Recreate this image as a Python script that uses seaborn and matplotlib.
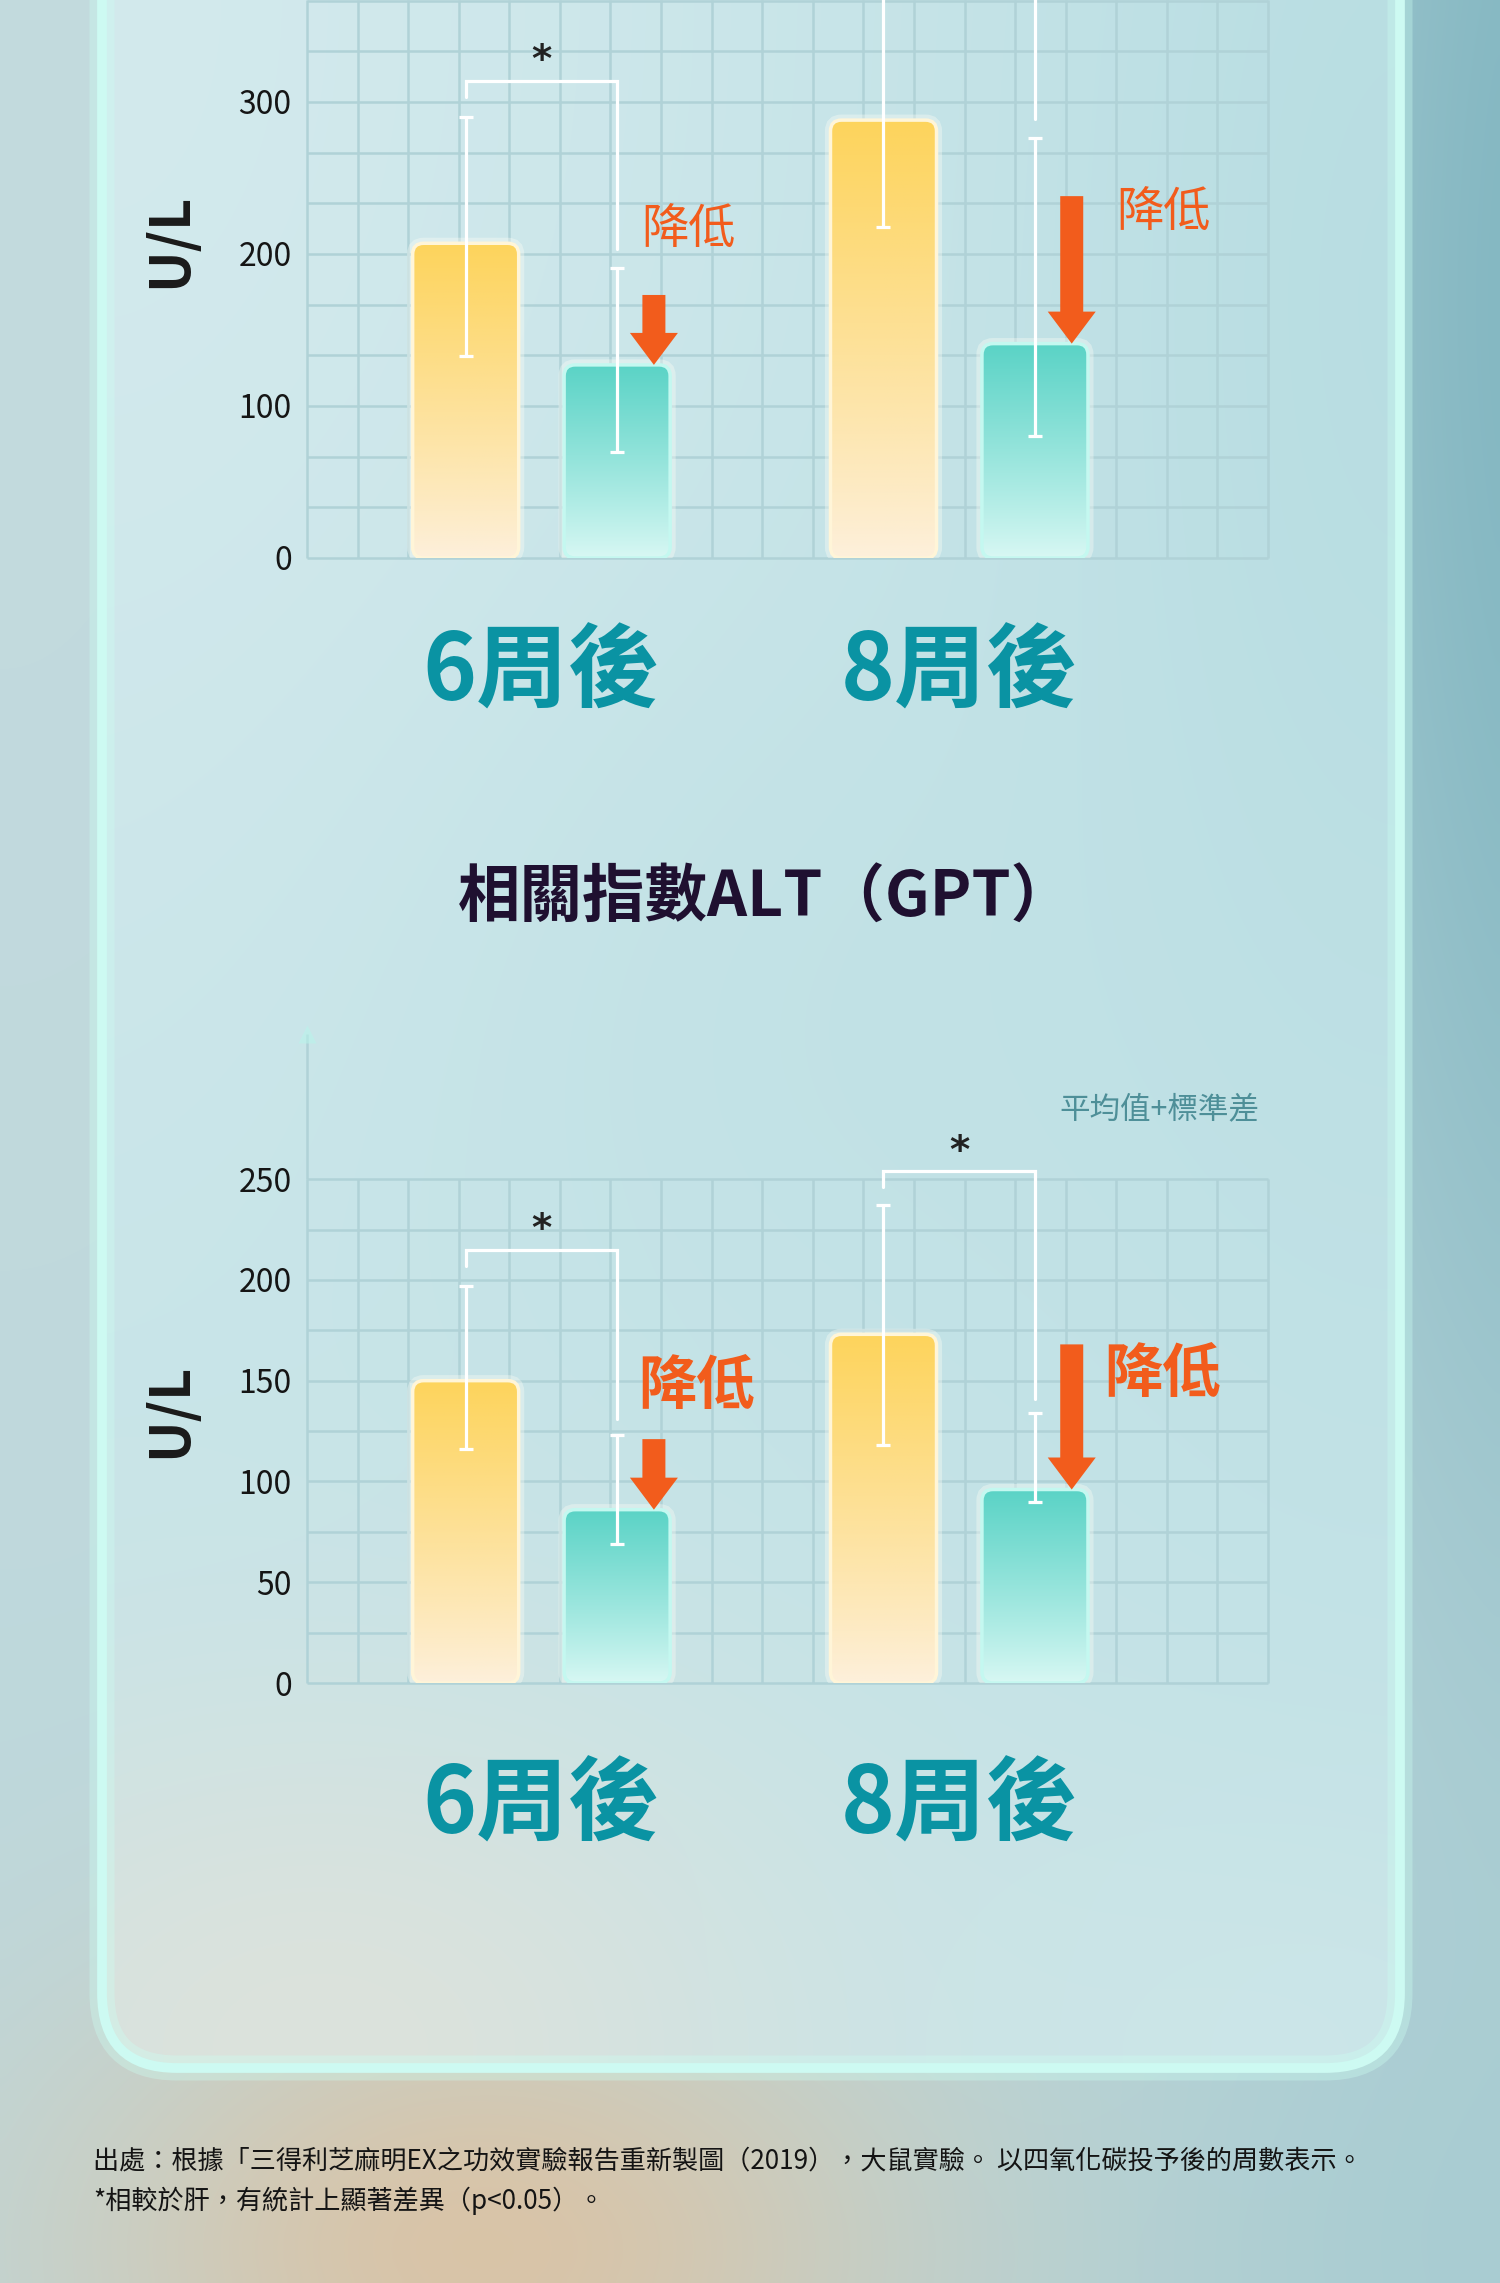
import numpy as np
import pandas as pd
import matplotlib
matplotlib.use("Agg")
import matplotlib.pyplot as plt
from matplotlib.patches import FancyBboxPatch
from matplotlib.colors import to_rgb
import seaborn as sns

# ---------------- data ----------------
weeks = ["6周後", "8周後"]
groups = ["對照組", "芝麻明EX"]

# upper chart (U/L)
ast_control = [207, 288]
ast_treated = [127, 141]
ast_control_low = [133, 218]
ast_control_high = [290, 392]
ast_treated_low = [70, 80]
ast_treated_high = [191, 276]
ast_bracket_top = [314, 400]
ast_bracket_left_end = [303, 392]
ast_bracket_right_end = [203, 289]
ast_arrow_from = [173, 238]
ast_ticks = [0, 100, 200, 300]

# lower chart ALT (GPT) (U/L)
alt_control = [150, 173]
alt_treated = [86, 96]
alt_control_low = [116, 118]
alt_control_high = [197, 237]
alt_treated_low = [69, 90]
alt_treated_high = [123, 134]
alt_bracket_top = [215, 254]
alt_bracket_left_end = [207, 246]
alt_bracket_right_end = [131, 141]
alt_arrow_from = [121, 168]
alt_ticks = [0, 50, 100, 150, 200, 250]

title_text = "相關指數ALT（GPT）"
unit_text = "U/L"
drop_text = "降低"
star_text = "*"
legend_note = "平均值+標準差"
footnote_1 = "出處：根據「三得利芝麻明EX之功效實驗報告重新製圖（2019），大鼠實驗。 以四氧化碳投予後的周數表示。"
footnote_2 = "*相較於肝，有統計上顯著差異（p<0.05）。"

# ---------------- style ----------------
sns.set_theme(style="white")
plt.rcParams["font.family"] = ["Noto Sans CJK TC", "DejaVu Sans"]

W, H = 1500, 2283
TEAL_TXT = "#0a93a3"
ORANGE = "#f25c1c"
GRID = "#b0d2d7"
WHITE_LINE = "#ffffff"
bar_top = {groups[0]: "#fdd45c", groups[1]: "#5ad3c6"}
bar_bot = {groups[0]: "#fdf0dc", groups[1]: "#d9f8f4"}
bar_edge = {groups[0]: "#fff5d8", groups[1]: "#c4f8f0"}

fig = plt.figure(figsize=(W / 100, H / 100), dpi=100)

# ---------------- background ----------------
bg = fig.add_axes([0, 0, 1, 1], zorder=-10)
bg.set_xlim(0, W)
bg.set_ylim(H, 0)
bg.axis("off")
yy, xx = np.mgrid[0:H:8, 0:W:8].astype(float)


def blob(cx, cy, sx, sy):
    return np.exp(-(((xx - cx) / sx) ** 2 + ((yy - cy) / sy) ** 2) / 2)


def mix(img, color, w):
    return img * (1 - w[..., None]) + np.array(to_rgb(color)) * w[..., None]


img = np.ones(xx.shape + (3,)) * np.array(to_rgb("#bcd7db"))
img = mix(img, "#c6dcdf", 0.7 * blob(0, 0, 400, 1200))
img = mix(img, "#80b5c0", 0.95 * blob(1560, 300, 220, 1000))
img = mix(img, "#a4cad0", 0.7 * blob(1550, 2283, 400, 300))
img = mix(img, "#dcc2a2", 0.9 * blob(480, 2250, 300, 200))
bg.imshow(img, extent=[0, W, H, 0], interpolation="bicubic", aspect="auto", zorder=0)

# frosted panel
pimg = np.ones(xx.shape + (3,)) * np.array(to_rgb("#c4e3e7"))
pimg = mix(pimg, "#d6ebee", 0.8 * blob(100, 0, 500, 900))
pimg = mix(pimg, "#b1dadf", 0.6 * blob(1400, 300, 260, 700))
pimg = mix(pimg, "#bcdfe3", 0.4 * blob(800, 1000, 300, 300))
pimg = mix(pimg, "#e0e2da", 0.85 * blob(320, 2050, 380, 260))
pimg = mix(pimg, "#d2e8ea", 0.5 * blob(1300, 2050, 300, 200))
panel_box = dict(boxstyle="round,pad=0,rounding_size=75")
panel_clip = FancyBboxPatch((102, -300), 1298, 2368, **panel_box,
                            facecolor="none", edgecolor="none", zorder=1)
bg.add_patch(panel_clip)
pim = bg.imshow(pimg, extent=[0, W, H, 0], interpolation="bicubic", aspect="auto", zorder=1)
pim.set_clip_path(panel_clip)
bg.add_patch(FancyBboxPatch((102, -300), 1298, 2368, **panel_box,
                            facecolor="none", edgecolor=(0.80, 1.0, 0.95, 0.35), lw=18, zorder=2))
bg.add_patch(FancyBboxPatch((102, -300), 1298, 2368, **panel_box,
                            facecolor="none", edgecolor="#cdfaf2", lw=7, zorder=3))
bg.set_xlim(0, W)
bg.set_ylim(H, 0)


# ---------------- chart drawing ----------------
def draw_chart(ax, ymax, grid_step, grid_top, ticks, control, treated,
               c_lo, c_hi, t_lo, t_hi, br_top, br_left, br_right, arrow_from,
               drop_layout, drop_fs, drop_weight, label_pad, axis_arrow=False):
    xmin, xmax = -0.561, 1.739
    df = pd.DataFrame({
        "week": weeks * 2,
        "group": [groups[0]] * 2 + [groups[1]] * 2,
        "value": list(control) + list(treated),
    })
    sns.barplot(data=df, x="week", y="value", hue="group", order=weeks,
                hue_order=groups, palette=bar_top, width=0.725, gap=0.3,
                errorbar=None, legend=False, ax=ax)
    ax.patch.set_alpha(0)
    pos = ax.get_position()
    pxx = pos.width * W / (xmax - xmin)
    pxy = pos.height * H / ymax

    bars = sorted(ax.patches, key=lambda p: p.get_x())
    centers = []
    for k, p in enumerate(bars):
        g = groups[k % 2]
        x0, w, h = p.get_x(), p.get_width(), p.get_height()
        p.set_visible(False)
        rx, ry = 11 / pxx, 11 / pxy
        style = f"round,pad=0,rounding_size={rx}"
        glow = FancyBboxPatch((x0, 0), w, h, boxstyle=style, mutation_aspect=ry / rx,
                              facecolor="none", edgecolor=(1, 1, 0.97, 0.35),
                              lw=8, zorder=2.5)
        ax.add_patch(glow)
        shape = FancyBboxPatch((x0, 0), w, h, boxstyle=style,
                               mutation_aspect=ry / rx, facecolor="none",
                               edgecolor=bar_edge[g], lw=2.5, zorder=4)
        ax.add_patch(shape)
        t = np.linspace(0, 1, 256)[:, None, None] ** 0.9
        grad = np.array(to_rgb(bar_bot[g])) * (1 - t) + np.array(to_rgb(bar_top[g])) * t
        im = ax.imshow(grad, extent=[x0, x0 + w, 0, h], origin="lower",
                       aspect="auto", interpolation="bilinear", zorder=3)
        im.set_clip_path(shape)
        centers.append(x0 + w / 2)
    centers = np.array(centers)

    # grid
    vx = np.linspace(xmin, xmax, 20)
    ax.vlines(vx, 0, grid_top, color=GRID, lw=1.8, zorder=1, clip_on=False)
    hy = np.arange(0, grid_top + 0.01, grid_step)
    ax.hlines(hy, xmin, xmax, color=GRID, lw=1.8, zorder=1, clip_on=False)
    if axis_arrow:
        ax.vlines([xmin], grid_top, ymax, color=GRID, lw=1.8, zorder=1, clip_on=False)
        ax.plot([xmin], [ymax], marker="^", ms=13, color=(0.72, 0.96, 0.92, 0.55),
                mec="none", clip_on=False, zorder=2)

    # error bars
    lows = np.array([c_lo[0], t_lo[0], c_lo[1], t_lo[1]])
    highs = np.array([c_hi[0], t_hi[0], c_hi[1], t_hi[1]])
    cw = 7 / pxx
    ax.vlines(centers, lows, highs, color=WHITE_LINE, lw=2.3, zorder=5)
    ax.hlines(lows, centers - cw, centers + cw, color=WHITE_LINE, lw=2.3, zorder=5)
    ax.hlines(highs, centers - cw, centers + cw, color=WHITE_LINE, lw=2.3, zorder=5)

    # significance brackets
    for i in range(2):
        xl, xr = centers[2 * i], centers[2 * i + 1]
        ax.plot([xl, xl, xr, xr], [br_left[i], br_top[i], br_top[i], br_right[i]],
                color=WHITE_LINE, lw=2.3, zorder=5, solid_joinstyle="miter")
        ax.annotate(star_text, ((xl + xr) / 2, br_top[i]), xytext=(0, 6),
                    textcoords="offset points", ha="center", va="baseline",
                    fontsize=28, fontweight="bold", color="#222222",
                    family="DejaVu Sans", zorder=6)

    # decrease arrows and labels
    for i in range(2):
        xc = centers[2 * i + 1] + 0.088
        ax.arrow(xc, arrow_from[i], 0, -(arrow_from[i] - treated[i]),
                 width=23 / pxx, head_width=48 / pxx, head_length=32 / pxy,
                 length_includes_head=True, color=ORANGE, lw=0, zorder=6)
        dx, ty = drop_layout[i]
        ax.text(centers[2 * i + 1] + dx, ty, drop_text, ha="center", va="center",
                fontsize=drop_fs, fontweight=drop_weight, color=ORANGE, zorder=6)

    ax.set_xlim(xmin, xmax)
    ax.set_ylim(0, ymax)
    ax.set_yticks(ticks)
    ax.set_yticklabels([str(v) for v in ticks])
    ax.tick_params(axis="y", length=0, pad=11, labelsize=23, labelcolor="#151515")
    ax.set_xticks(range(len(weeks)))
    ax.set_xticklabels(weeks, fontsize=66, fontweight="bold", color=TEAL_TXT)
    ax.tick_params(axis="x", length=0, pad=label_pad)
    ax.set_xlabel("")
    ax.set_ylabel("")
    for s in ax.spines.values():
        s.set_visible(False)


ax1 = fig.add_axes([307 / W, 1 - 558 / H, (1268 - 307) / W, 558 / H])
draw_chart(ax1, 367, 100 / 3, 367, ast_ticks, ast_control, ast_treated,
           ast_control_low, ast_control_high, ast_treated_low, ast_treated_high,
           ast_bracket_top, ast_bracket_left_end, ast_bracket_right_end, ast_arrow_from,
           [(0.17, 216), (0.308, 227)], 34, "medium", 49)

ax2 = fig.add_axes([307 / W, 1 - 1683 / H, (1268 - 307) / W, (1683 - 1034) / H])
draw_chart(ax2, 322, 25, 250, alt_ticks, alt_control, alt_treated,
           alt_control_low, alt_control_high, alt_treated_low, alt_treated_high,
           alt_bracket_top, alt_bracket_left_end, alt_bracket_right_end, alt_arrow_from,
           [(0.19, 147), (0.306, 153)], 42, "bold", 55, axis_arrow=True)

# unit labels
fig.text(170 / W, 1 - 240 / H, unit_text, rotation=90, ha="center", va="center",
         fontsize=40, fontweight="bold", color="#1a1a1a")
fig.text(170 / W, 1 - 1410 / H, unit_text, rotation=90, ha="center", va="center",
         fontsize=40, fontweight="bold", color="#1a1a1a")

# title
fig.text(766 / W, 1 - 898 / H, title_text, ha="center", va="center",
         fontsize=45, fontweight="bold", color="#1f1030")

# mean + sd note
fig.text(1259 / W, 1 - 1110 / H, legend_note, ha="right", va="center",
         fontsize=22, color="#4e8f98")

# footnotes
fig.text(93 / W, 1 - 2161 / H, footnote_1, ha="left", va="center",
         fontsize=18.8, color="#141414")
fig.text(93 / W, 1 - 2201 / H, footnote_2, ha="left", va="center",
         fontsize=18.8, color="#141414")

fig.savefig("out.png", dpi=100)
